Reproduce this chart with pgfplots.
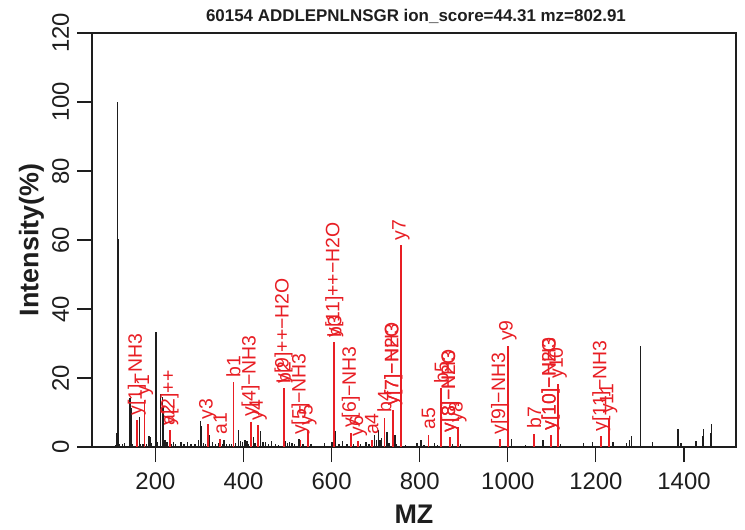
\documentclass[border=0pt]{standalone}
\usepackage{fontspec}
\setmainfont{Liberation Sans}
\usepackage{pgfplots}
\pgfplotsset{compat=1.18}
\definecolor{pkred}{RGB}{232,30,36}
\definecolor{pkblack}{RGB}{30,30,30}
\pgfplotstableread{
x y label
157.8 7.7 y[1]−NH3
175.1 13.5 y1
232.1 4.8 y2
232.1 4.8 a[2]++
319.2 6.6 y3
347.5 2.2 a1
377.2 18.8 b1
416.2 7.3 y[4]−NH3
433.2 6.3 y4
491.0 17.0 b2
491.0 17.0 y[9]++−H2O
529.3 2.1 y[5]−NH3
546.3 4.8 y5
606.4 30.4 b3
606.4 30.4 y[11]++−H2O
643.5 4.1 y[6]−NH3
660.5 1.7 y6
691.3 2.1 a4
720.1 8.5 b4
740.0 10.6 y[7]−H2O
740.0 10.6 y[7]−NH3
757.4 58.5 y7
820.0 3.6 a5
848.8 17.0 b5
869.0 2.9 y[8]−H2O
869.0 2.9 y[8]−NH3
886.5 5.8 y8
982.5 2.2 y[9]−NH3
999.8 29.3 y9
1060.0 3.9 b7
1097.0 3.4 y[10]−H2O
1097.0 3.4 y[10]−NH3
1114.0 18.4 y10
1212.3 3.1 y[11]−NH3
1229.0 8.2 y11
}\redpeaks
\begin{document}
\begin{tikzpicture}
\useasboundingbox (-92bp,-83bp) rectangle (653bp,447bp);
\begin{axis}[
  at={(0,0)}, anchor=south west,
  scale only axis, width=644bp, height=414bp,
  xmin=56, xmax=1518, ymin=0, ymax=120,
  axis line style={line width=1.1bp, pkblack},
  xtick={200,400,...,1400}, ytick={0,20,...,120},
  tick align=outside, tick pos=left,
  major tick length=15bp,
  tick style={line width=1.1bp, pkblack},
  /pgf/number format/assume math mode=true,
  /pgf/number format/1000 sep={},
  ticklabel style={font=\fontsize{24}{24}\selectfont, text=pkblack},
  xticklabel style={inner sep=0pt, anchor=north, yshift=-11bp},
  yticklabel style={rotate=90, inner sep=0pt, anchor=south, outer ysep=8bp},
  clip=false,
]
\addplot[ycomb, pkblack, line width=1.3bp] coordinates {
(110.0,0.6) (112.4,4.0) (114.6,100.0) (115.4,60.2) (118.5,0.8) (126.0,0.8) (129.1,1.0) (130.1,1.2)
(142.6,14.2) (144.9,11.3) (147.0,1.0) (160.0,1.2) (163.6,8.7) (166.0,1.0) (171.0,1.0) (173.0,0.8)
(180.0,1.0) (185.7,3.2) (187.5,2.9) (191.0,1.2) (201.0,33.2) (205.0,1.5) (212.3,15.3) (216.5,14.6)
(219.0,12.0) (222.0,2.0) (226.0,1.5) (236.0,1.0) (241.0,1.5) (246.0,0.8)
(258,1.5) (265,0.8) (273,1.5) (281,0.8) (290,1.0) (298,2.0) (301.6,7.5) (305.2,6.2) (309,1.2) (313,1.0)
(322.7,3.4) (330,1.5) (336,1.0) (343,1.2) (352,1.0) (356,1.9) (362,1.0) (368,0.8) (373,1.0) (382,1.2)
(388.6,4.8) (393,1.8) (398,1.5) (403,2.0) (408,1.6) (412,1.0) (422.7,2.9) (426,1.2) (439.3,4.6) (444,1.5)
(450,1.5) (456,0.8) (464,1.8) (472,1.0) (480,0.6) (496,1.8)
(500,1.2) (505,1.5) (510,1.3) (515,0.8) (526,2.4) (535,1.0) (553,0.8) (584,1.2) (601,1.5) (608.5,4.6)
(617,1.0) (625,1.7) (635,0.8) (650,0.8) (666,0.8) (678,1.5) (685,1.0) (697.4,3.4) (702,2.0) (706.5,4.8)
(710,2.0) (713.6,2.7) (725.5,4.4) (730,1.2) (744,3.6) (748,1.0) (768,0.6) (793.6,1.2) (802.6,1.9) (810,0.6)
(833,1.2) (840,0.5)
(875,1.0) (893,0.8) (1000.8,11.9) (1009,2.4) (1040,0.6) (1079.6,2.1) (1120,0.8) (1172,1.2) (1193,1.5)
(1238.7,1.5) (1270,1.2) (1276,2.0) (1281.5,3.3) (1300.6,29.3) (1301.0,15.2) (1328.6,1.5) (1386,5.3)
(1387,3.4) (1393,1.2) (1427,1.6) (1443,3.1) (1444,5.3) (1461,4.2) (1462.5,6.6)
};
\addplot[ycomb, pkred, line width=1.9bp,
  nodes near coords, point meta=explicit symbolic,
  nodes near coords style={rotate=90, anchor=west, inner sep=0pt, inner xsep=4bp,
    font=\fontsize{19.5}{19.5}\selectfont, text=pkred}]
  table[x=x, y=y, meta=label] {\redpeaks};
\end{axis}
\node[anchor=base, font=\bfseries\fontsize{17}{17}\selectfont, text=pkblack] at (324bp,425bp)
  {60154 ADDLEPNLNSGR ion\_score=44.31 mz=802.91};
\node[anchor=base, font=\bfseries\fontsize{27}{27}\selectfont, text=pkblack] at (322bp,-76bp) {MZ};
\node[rotate=90, anchor=base, font=\bfseries\fontsize{27}{27}\selectfont, text=pkblack] at (-53.5bp,207bp) {Intensity(\%)};
\end{tikzpicture}
\end{document}
